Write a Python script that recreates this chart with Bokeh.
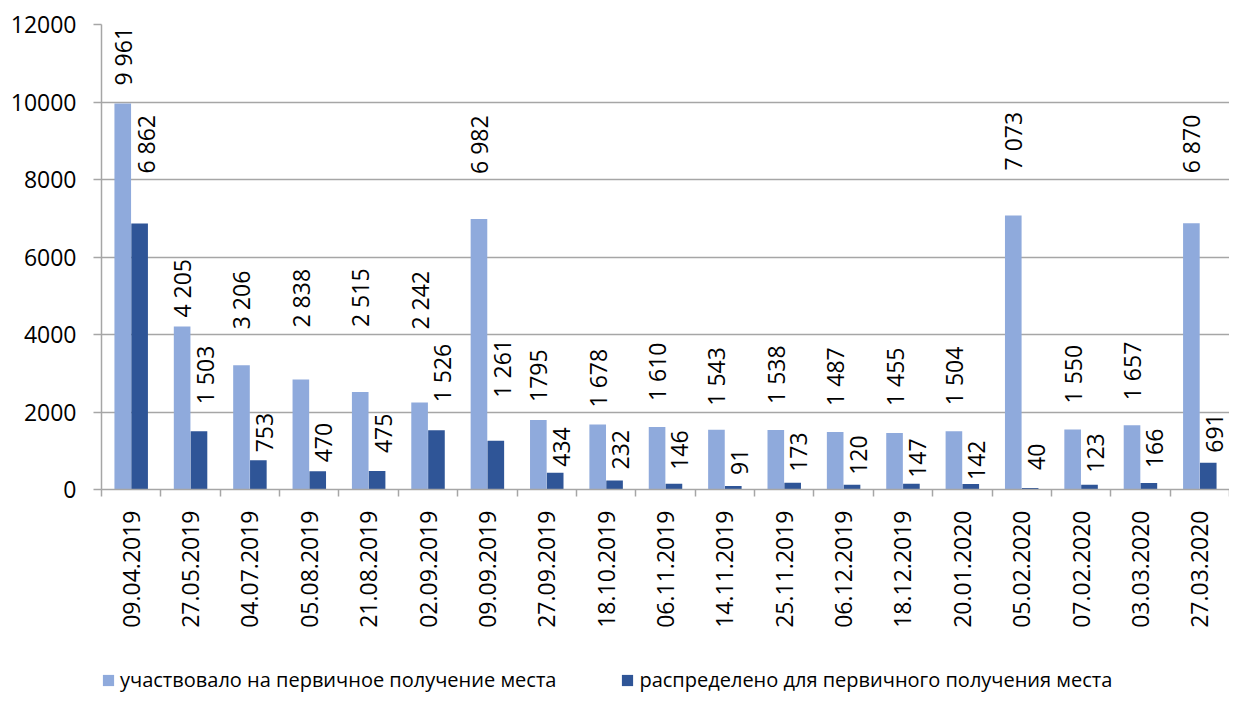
import numpy as np
from bokeh.plotting import figure
from bokeh.layouts import column
from bokeh.models import ColumnDataSource, Range1d, FixedTicker, Legend, LegendItem
from bokeh.embed import file_html
from bokeh.resources import INLINE
from bokeh.core.properties import value

# ---- data ----
dates = ["09.04.2019", "27.05.2019", "04.07.2019", "05.08.2019", "21.08.2019",
         "02.09.2019", "09.09.2019", "27.09.2019", "18.10.2019", "06.11.2019",
         "14.11.2019", "25.11.2019", "06.12.2019", "18.12.2019", "20.01.2020",
         "05.02.2020", "07.02.2020", "03.03.2020", "27.03.2020"]
participated = [9961, 4205, 3206, 2838, 2515, 2242, 6982, 1795, 1678, 1610,
                1543, 1538, 1487, 1455, 1504, 7073, 1550, 1657, 6870]
allocated = [6862, 1503, 753, 470, 475, 1526, 1261, 434, 232, 146,
             91, 173, 120, 147, 142, 40, 123, 166, 691]
participated_labels = ["9 961", "4 205", "3 206", "2 838", "2 515", "2 242", "6 982",
                       "1795", "1 678", "1 610", "1 543", "1 538", "1 487", "1 455",
                       "1 504", "7 073", "1 550", "1 657", "6 870"]
allocated_labels = ["6 862", "1 503", "753", "470", "475", "1 526", "1 261", "434",
                    "232", "146", "91", "173", "120", "147", "142", "40", "123",
                    "166", "691"]
series_names = ["участвовало на первичное получение места",
                "распределено для первичного получения места"]
y_ticks = [0, 2000, 4000, 6000, 8000, 10000, 12000]

# ---- style ----
LIGHT = "#8FAADC"
DARK = "#2F5597"
GRID = "#A6A6A6"
FONT = "Open Sans"
FS = "23px"
# pixel gap between bar top and its (rotated) label, as placed in the original
label_gap_participated = [18, 9, 36, 52, 65, 73, 45, 18, 17, 26, 24, 26, 26, 27, 26, 45, 26, 25, 50]
label_gap_allocated = [50, 27, 8, 9, 18, 28, 43, 6, 11, 14, 11, 11, 10, 6, 4, 18, 12, 15, 10]

n = len(dates)
idx = np.arange(n)
half = 0.142
bar_w = 0.28

src_a = ColumnDataSource(dict(x=idx + 0.5 - half, top=participated, lab=participated_labels,
                              off=[-g for g in label_gap_participated]))
src_b = ColumnDataSource(dict(x=idx + 0.5 + half, top=allocated, lab=allocated_labels,
                              off=[-g for g in label_gap_allocated]))

W = 1229
p = figure(width=W, height=640, x_range=Range1d(0, n), y_range=Range1d(0, 12000),
           output_backend="svg", toolbar_location=None,
           min_border_left=101, min_border_right=0, min_border_top=24, min_border_bottom=151)
p.outline_line_color = None
p.background_fill_color = "white"

r_a = p.vbar(x="x", top="top", width=bar_w, source=src_a, fill_color=LIGHT, line_color=None)
r_b = p.vbar(x="x", top="top", width=bar_w, source=src_b, fill_color=DARK, line_color=None)

p.text(x="x", y="top", text="lab", source=src_a, angle=np.pi / 2,
       text_align="left", text_baseline="middle", y_offset="off",
       text_font=value(FONT), text_font_size=FS, text_color="black")
p.text(x="x", y="top", text="lab", source=src_b, angle=np.pi / 2,
       text_align="left", text_baseline="middle", y_offset="off", x_offset=6,
       text_font=value(FONT), text_font_size=FS, text_color="black")

# x axis: labels at category centres, tick marks at category boundaries
centers = [i + 0.5 for i in range(n)]
p.xaxis.ticker = FixedTicker(ticks=centers, minor_ticks=list(range(n + 1)))
p.xaxis.major_label_overrides = {c: d for c, d in zip(centers, dates)}
p.xaxis.major_label_orientation = np.pi / 2
p.xaxis.major_tick_line_color = None
p.xaxis.major_tick_out = 7
p.xaxis.major_tick_in = 0
p.xaxis.minor_tick_out = 7
p.xaxis.minor_tick_in = 0
p.xaxis.minor_tick_line_color = GRID
p.xaxis.minor_tick_line_width = 1.5
p.xaxis.axis_line_color = GRID
p.xaxis.axis_line_width = 1.5
p.xaxis.major_label_standoff = 14
p.xaxis.major_label_text_font = FONT
p.xaxis.major_label_text_font_size = FS
p.xaxis.major_label_text_color = "black"

p.yaxis.ticker = FixedTicker(ticks=y_ticks)
p.yaxis.minor_tick_line_color = None
p.yaxis.major_tick_out = 8
p.yaxis.major_tick_in = 0
p.yaxis.major_tick_line_color = GRID
p.yaxis.major_tick_line_width = 1.5
p.yaxis.axis_line_color = GRID
p.yaxis.axis_line_width = 1.5
p.yaxis.major_label_standoff = 17
p.yaxis.major_label_text_font = FONT
p.yaxis.major_label_text_font_size = FS
p.yaxis.major_label_text_color = "black"

p.xgrid.grid_line_color = None
p.ygrid.ticker = FixedTicker(ticks=y_ticks)
p.ygrid.grid_line_color = GRID
p.ygrid.grid_line_width = 1.5

# legend strip below the chart (swatch renderers are zero-height, only feed the legend)
lg = figure(width=W, height=54, x_range=Range1d(0, 1), y_range=Range1d(0, 1),
            output_backend="svg", toolbar_location=None, x_axis_type=None, y_axis_type=None,
            min_border=0)
lg.outline_line_color = None
lg.grid.grid_line_color = None
sw_a = lg.vbar(x=[0.5], top=[0], bottom=[0], width=0.01, fill_color=LIGHT, line_color=None)
sw_b = lg.vbar(x=[0.5], top=[0], bottom=[0], width=0.01, fill_color=DARK, line_color=None)
legend = Legend(items=[LegendItem(label=series_names[0], renderers=[sw_a]),
                       LegendItem(label=series_names[1], renderers=[sw_b])],
                orientation="horizontal", location=(0, 1),
                glyph_width=14, glyph_height=14, label_standoff=5, spacing=64,
                padding=0, margin=0, border_line_color=None, background_fill_alpha=0,
                label_text_font=FONT, label_text_font_size="20px", label_text_color="black",
                label_height=24)
lg.add_layout(legend)

layout = column(p, lg, spacing=0)
open("out.html", "w").write(file_html(layout, INLINE))
